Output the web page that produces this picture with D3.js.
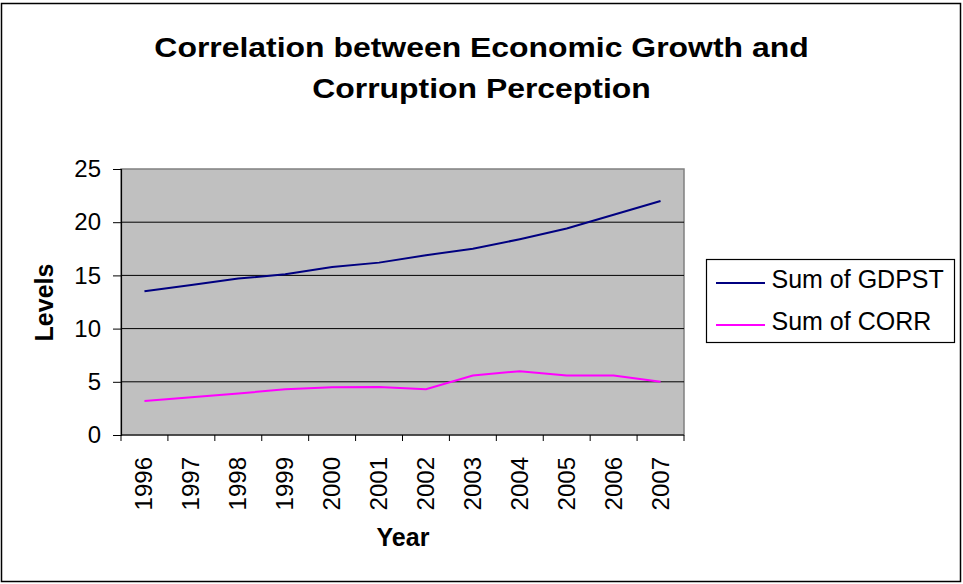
<!DOCTYPE html>
<html>
<head>
<meta charset="utf-8">
<script src="https://cdn.jsdelivr.net/npm/d3@7"></script>
<style>
  html, body { margin: 0; padding: 0; background: #fff; }
  svg { display: block; font-family: "Liberation Sans", Arial, sans-serif; }
</style>
</head>
<body>
<svg id="chart" width="963" height="584"></svg>
<script>
// Years on the category axis
const years = ["1996","1997","1998","1999","2000","2001","2002","2003","2004","2005","2006","2007"];
// Series values
const gdpst = [13.5, 14.1, 14.7, 15.1, 15.8, 16.2, 16.9, 17.5, 18.4, 19.4, 20.7, 22.0];
const corr  = [3.2, 3.55, 3.9, 4.3, 4.48, 4.5, 4.3, 5.6, 6.0, 5.6, 5.6, 5.0];
const seriesNames = ["Sum of GDPST", "Sum of CORR"];
const seriesColors = ["#000080", "#FF00FF"];
const yTicks = [0, 5, 10, 15, 20, 25];

const svg = d3.select("#chart");

// Outer chart frame
svg.append("rect")
  .attr("x", 1.5).attr("y", 3.5).attr("width", 959).attr("height", 578)
  .attr("fill", "#fff").attr("stroke", "#000").attr("stroke-width", 1.5);

// Title (slightly widened lettering)
const title = svg.append("g")
  .attr("transform", "translate(481.5,0) scale(1.14,1)");
const titleText = title.append("text")
  .attr("text-anchor", "middle")
  .attr("font-weight", "bold").attr("font-size", 28).attr("fill", "#000");
titleText.append("tspan").attr("x", 0).attr("y", 57).text("Correlation between Economic Growth and");
titleText.append("tspan").attr("x", 0).attr("y", 98.5).text("Corruption Perception");

const plot = { left: 121, right: 684, top: 169, bottom: 435 };

const x = d3.scaleBand().domain(years).range([plot.left, plot.right]);
const y = d3.scaleLinear().domain([0, 25]).range([plot.bottom, plot.top]);

// Plot area
svg.append("rect")
  .attr("x", plot.left).attr("y", plot.top)
  .attr("width", plot.right - plot.left).attr("height", plot.bottom - plot.top)
  .attr("fill", "#C0C0C0").attr("stroke", "#808080").attr("stroke-width", 1.5);

// Horizontal gridlines
svg.append("g").selectAll("line")
  .data(yTicks.filter(t => t > 0 && t < 25))
  .join("line")
  .attr("x1", plot.left).attr("x2", plot.right)
  .attr("y1", d => y(d)).attr("y2", d => y(d))
  .attr("stroke", "#000").attr("stroke-width", 1);

// Y axis
const yAxis = svg.append("g")
  .attr("transform", `translate(${plot.left},0)`)
  .call(d3.axisLeft(y).tickValues(yTicks).tickSize(8).tickPadding(12).tickFormat(d3.format("d")));
yAxis.select(".domain").attr("stroke", "#000").attr("stroke-width", 1.2);
yAxis.selectAll(".tick line").attr("stroke", "#000");
yAxis.selectAll("text")
  .attr("font-size", 24).attr("fill", "#000")
  .attr("font-family", "Liberation Sans, Arial, sans-serif");

// X axis with ticks at category boundaries
const xAxisG = svg.append("g");
xAxisG.append("line")
  .attr("x1", plot.left).attr("x2", plot.right)
  .attr("y1", plot.bottom).attr("y2", plot.bottom)
  .attr("stroke", "#000").attr("stroke-width", 1.2);
const boundaries = years.map(d => x(d)).concat([x(years[years.length - 1]) + x.bandwidth()]);
xAxisG.selectAll("line.tick")
  .data(boundaries)
  .join("line")
  .attr("class", "tick")
  .attr("x1", d => d).attr("x2", d => d)
  .attr("y1", plot.bottom).attr("y2", plot.bottom + 6)
  .attr("stroke", "#000");
xAxisG.selectAll("text")
  .data(years)
  .join("text")
  .attr("transform", d => `translate(${x(d) + x.bandwidth() / 2 + 8},${plot.bottom + 22}) rotate(-90)`)
  .attr("text-anchor", "end")
  .attr("font-size", 24).attr("fill", "#000")
  .text(d => d);

// Axis titles
svg.append("text")
  .attr("transform", "translate(53,302.5) rotate(-90)")
  .attr("text-anchor", "middle")
  .attr("font-weight", "bold").attr("font-size", 25).attr("fill", "#000")
  .text("Levels");
svg.append("text")
  .attr("x", 403).attr("y", 545.5)
  .attr("text-anchor", "middle")
  .attr("font-weight", "bold").attr("font-size", 25).attr("fill", "#000")
  .text("Year");

// Series lines
const line = d3.line()
  .x((d, i) => x(years[i]) + x.bandwidth() / 2)
  .y(d => y(d));
[gdpst, corr].forEach((vals, i) => {
  svg.append("path")
    .datum(vals)
    .attr("d", line)
    .attr("fill", "none")
    .attr("stroke", seriesColors[i])
    .attr("stroke-width", 2);
});

// Legend
const legend = svg.append("g");
legend.append("rect")
  .attr("x", 706.5).attr("y", 259.5).attr("width", 248).attr("height", 83)
  .attr("fill", "#fff").attr("stroke", "#000").attr("stroke-width", 1.2);
const legendRows = [283, 325];
seriesNames.forEach((name, i) => {
  legend.append("line")
    .attr("x1", 716).attr("x2", 765)
    .attr("y1", legendRows[i]).attr("y2", legendRows[i])
    .attr("stroke", seriesColors[i]).attr("stroke-width", 2);
  legend.append("text")
    .attr("x", 771.5).attr("y", legendRows[i] + 4.5)
    .attr("font-size", 25).attr("fill", "#000")
    .text(name);
});
</script>
</body>
</html>
